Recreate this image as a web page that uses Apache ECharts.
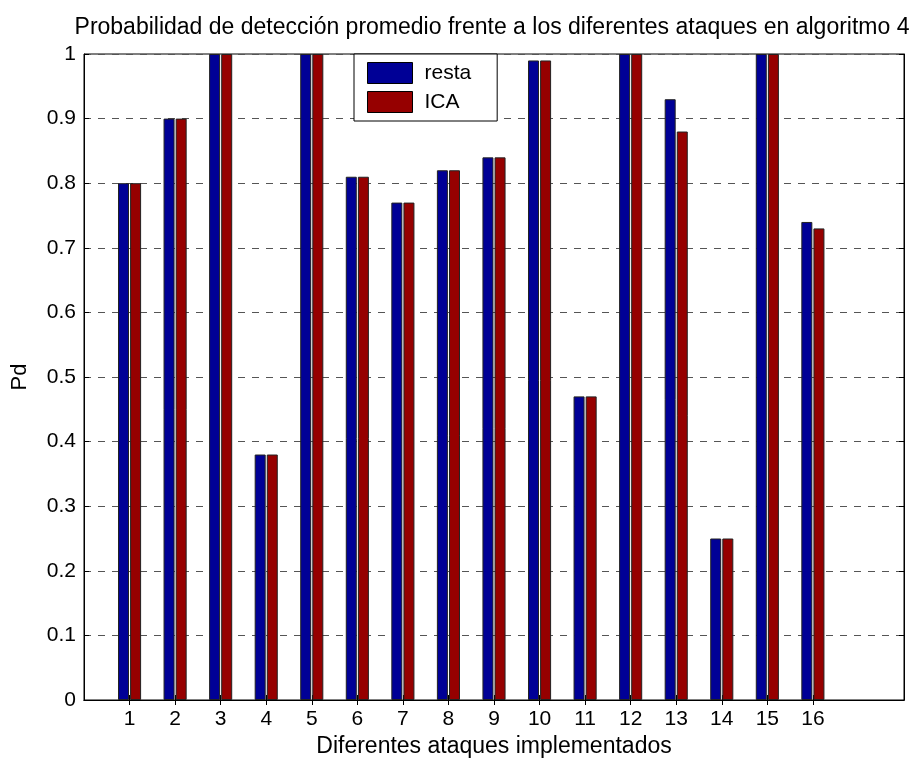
<!DOCTYPE html>
<html>
<head>
<meta charset="utf-8">
<script src="https://cdn.jsdelivr.net/npm/echarts@6/dist/echarts.min.js"></script>
<style>html,body{margin:0;padding:0;background:#fff;}#c{width:916px;height:760px;}</style>
</head>
<body>
<div id="c"></div>
<script>
const titleText = 'Probabilidad de detección promedio frente a los diferentes ataques en algoritmo 4';
const xName = 'Diferentes ataques implementados';
const yName = 'Pd';
const attacks = ['1','2','3','4','5','6','7','8','9','10','11','12','13','14','15','16'];
const resta = [0.80, 0.90, 1.00, 0.38, 1.00, 0.81, 0.77, 0.82, 0.84, 0.99, 0.47, 1.00, 0.93, 0.25, 1.00, 0.74];
const ica   = [0.80, 0.90, 1.00, 0.38, 1.00, 0.81, 0.77, 0.82, 0.84, 0.99, 0.47, 1.00, 0.88, 0.25, 1.00, 0.73];
const seriesNames = ['resta', 'ICA'];

// axis runs from 0 to 18 with attacks at 1..16
const cats = [''].concat(attacks, ['', '']);
const pad = arr => [null].concat(arr, [null, null]);
const showTick = (i) => i >= 1 && i <= attacks.length;

const FONT = 'Liberation Sans, Arial, sans-serif';
const chart = echarts.init(document.getElementById('c'), null, {renderer: 'canvas'});
const xBase = {
  type: 'category', data: cats, boundaryGap: false,
  axisLine: {show: true, lineStyle: {color: '#000', width: 1}},
  axisTick: {show: true, inside: true, length: 5, interval: (i) => showTick(i), lineStyle: {color: '#000'}},
  splitLine: {show: false}
};
chart.setOption({
  animation: false,
  backgroundColor: '#fff',
  title: {
    text: titleText, left: 487, top: 11, textAlign: 'center',
    textStyle: {fontFamily: FONT, fontSize: 23, fontWeight: 'normal', color: '#000'}
  },
  legend: {
    data: seriesNames, orient: 'vertical', left: 354, top: 54,
    padding: [8, 26, 8, 13], itemGap: 7, itemWidth: 45, itemHeight: 21, icon: 'rect',
    backgroundColor: '#fff', borderColor: '#000', borderWidth: 1,
    textStyle: {fontFamily: FONT, fontSize: 21, color: '#000', padding: [0, 0, 0, 7]},
    itemStyle: {borderColor: '#000', borderWidth: 1}
  },
  grid: {left: 84, right: 12, top: 54, bottom: 60, show: true, borderColor: '#000', borderWidth: 1,
    containLabel: false, outerBoundsMode: 'none'},
  xAxis: [
    Object.assign({}, xBase, {
      position: 'bottom', name: xName, nameLocation: 'middle', nameGap: 34,
      nameTextStyle: {fontFamily: FONT, fontSize: 23, color: '#000'},
      axisLabel: {fontFamily: FONT, fontSize: 21, color: '#000', margin: 9, interval: 0,
        formatter: v => v}
    }),
    Object.assign({}, xBase, {position: 'top', axisLabel: {show: false}})
  ],
  yAxis: [
    {
      type: 'value', min: 0, max: 1, interval: 0.1, position: 'left',
      name: yName, nameLocation: 'middle', nameGap: 53, nameRotate: 90,
      nameTextStyle: {fontFamily: FONT, fontSize: 22, color: '#000'},
      axisLine: {show: true, lineStyle: {color: '#000'}},
      axisTick: {show: true, inside: true, length: 5, lineStyle: {color: '#000'}},
      axisLabel: {fontFamily: FONT, fontSize: 21, color: '#000', margin: 8,
        formatter: v => String(Math.round(v * 10) / 10)},
      splitLine: {show: true, lineStyle: {color: '#555', type: [7, 7], width: 1}}
    },
    {
      type: 'value', min: 0, max: 1, interval: 0.1, position: 'right',
      axisLine: {show: true, lineStyle: {color: '#000'}},
      axisTick: {show: true, inside: true, length: 5, lineStyle: {color: '#000'}},
      axisLabel: {show: false}, splitLine: {show: false}
    }
  ],
  series: [
    {
      name: seriesNames[0], type: 'bar', data: pad(resta), barWidth: 11, barGap: '10%',
      itemStyle: {color: '#000096', borderColor: '#222', borderWidth: 1}, z: 1
    },
    {
      name: seriesNames[1], type: 'bar', data: pad(ica), barWidth: 11, barGap: '10%',
      itemStyle: {color: '#960000', borderColor: '#222', borderWidth: 1}, z: 1
    }
  ]
});
</script>
</body>
</html>
